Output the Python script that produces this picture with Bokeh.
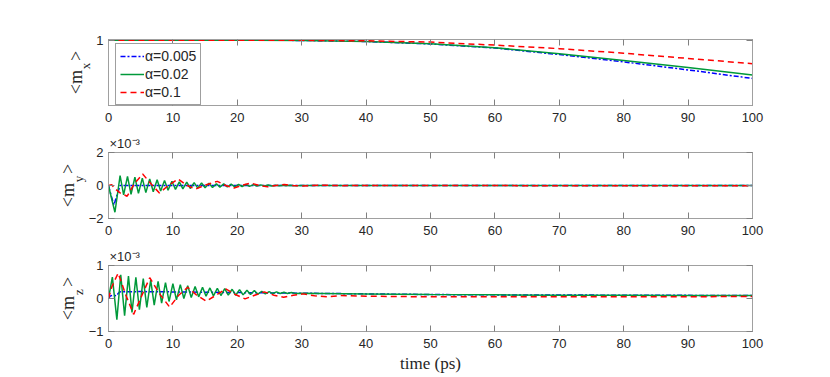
from bokeh.plotting import figure
from bokeh.layouts import column
from bokeh.models import (FixedTicker, Range1d, LinearAxis, Title,
                          CustomLabelingPolicy)
from bokeh.embed import file_html
from bokeh.resources import INLINE

# ---------------- data ----------------
labels = ["\u03b1=0.005", "\u03b1=0.02", "\u03b1=0.1"]
colors = ["#0000ff", "#00993a", "#ff0000"]
dashes = ["5 2 2 2", "solid", "6 4"]
x_ticks = [0, 10, 20, 30, 40, 50, 60, 70, 80, 90, 100]

# <m_x>
t_mx = [0, 10, 20, 30, 40, 50, 60, 70, 80, 90, 100]
mx_a005 = [1, 1, 1, 0.9996, 0.998, 0.9942, 0.988, 0.978, 0.9667, 0.9545, 0.9414]
mx_a02 = [1, 1, 1, 0.9996, 0.998, 0.9944, 0.9884, 0.9793, 0.969, 0.958, 0.9465]
mx_a1 = [1, 1, 1, 0.9998, 0.999, 0.997, 0.9924, 0.987, 0.98, 0.972, 0.964]

# <m_y>  (units of 1e-3)
t_my_a005 = [0, 0.4, 0.85, 1.3, 1.8, 100]
my_a005 = [0, -0.6, -1.18, -0.6, 0.0, 0.0]
t_my_a02 = [0, 0.3, 1.0, 1.8, 2.35, 2.95, 3.5, 4.1, 4.65, 5.25, 5.8, 6.4, 6.95,
            7.55, 8.1, 8.7, 9.25, 9.85, 10.4, 11.0, 11.55, 12.15, 12.7, 13.3,
            13.85, 14.45, 15.0, 15.6, 16.15, 16.75, 17.3, 17.9, 18.45, 19.05,
            19.6, 20.2, 20.75, 21.35, 21.9, 22.5, 23.05, 23.65, 24.2, 24.8,
            25.35, 25.95, 26.5, 27.1, 27.65, 28.25, 28.8, 30, 100]
my_a02 = [0, -0.5, -1.62, 0.6, -0.57, 0.55, -0.53, 0.5, -0.48, 0.45, -0.43,
          0.4, -0.38, 0.35, -0.33, 0.3, -0.28, 0.26, -0.24, 0.22, -0.2, 0.2,
          -0.18, 0.17, -0.16, 0.15, -0.14, 0.13, -0.12, 0.11, -0.1, 0.1,
          -0.09, 0.08, -0.08, 0.07, -0.06, 0.06, -0.05, 0.05, -0.04, 0.04,
          -0.03, 0.03, -0.03, 0.02, -0.02, 0.02, -0.01, 0.01, -0.01, 0, 0]
t_my_a1 = [0, 0.5, 1.0, 1.8, 2.9, 4.0, 5.3, 6.6, 7.9, 9.3, 10.8, 12.2, 13.5,
           15.2, 16.9, 18.2, 19.5, 20.8, 22.1, 23.4, 24.7, 26, 27.3, 28.6, 30,
           33, 36, 40, 100]
my_a1 = [0, 0.05, -0.2, -0.45, -0.65, 0.1, 0.7, 0.1, -0.45, 0.0, 0.4, 0.0,
         -0.22, 0.05, 0.25, 0.0, -0.15, 0.02, 0.15, 0.0, -0.08, 0.0, 0.06, 0.0,
         -0.03, 0.02, -0.01, 0.0, -0.02]

# <m_z>  (units of 1e-3)
t_mz_a005 = [0, 0.3, 0.8, 1.2, 1.7, 5, 10, 20, 30, 40, 50, 60, 80, 100]
mz_a005 = [0, 0.08, 0.1, 0.08, 0.2, 0.21, 0.2, 0.18, 0.16, 0.14, 0.12, 0.11,
           0.1, 0.09]
t_mz_a02 = [0, 0.6, 1.3, 1.9, 2.5, 3.1, 3.65, 4.25, 4.8, 5.4, 5.95, 6.55, 7.1,
            7.7, 8.25, 8.85, 9.4, 10.0, 10.55, 11.15, 11.7, 12.3, 12.85,
            13.45, 14.0, 14.6, 15.15, 15.75, 16.3, 16.9, 17.45, 18.05, 18.6,
            19.2, 19.75, 20.35, 20.9, 21.5, 22.05, 22.65, 23.2, 23.8, 24.35,
            24.95, 25.5, 26.1, 26.65, 27.25, 27.8, 28.4, 29, 30, 40, 50, 60,
            70, 80, 90, 100]
mz_a02 = [0, 0.65, -0.64, 0.72, -0.52, 0.68, -0.42, 0.64, -0.34, 0.6, -0.27,
          0.56, -0.2, 0.52, -0.14, 0.48, -0.09, 0.45, -0.04, 0.42, 0.0, 0.39,
          0.03, 0.36, 0.05, 0.34, 0.07, 0.32, 0.08, 0.31, 0.09, 0.3, 0.1,
          0.28, 0.1, 0.27, 0.11, 0.25, 0.12, 0.24, 0.13, 0.22, 0.14, 0.21,
          0.15, 0.2, 0.15, 0.19, 0.15, 0.18, 0.155, 0.16, 0.14, 0.12, 0.11,
          0.1, 0.1, 0.09, 0.09]
t_mz_a1 = [0, 0.5, 1.5, 2.7, 3.9, 5.2, 6.4, 7.9, 9.5, 10.9, 12.3, 13.7, 15.2,
           16.7, 18.2, 19.7, 21.2, 22.7, 24.2, 25.7, 27.2, 28.7, 30.2, 32, 34,
           36, 40, 50, 60, 80, 100]
mz_a1 = [0, 0.35, 0.77, 0.1, -0.48, 0.1, 0.63, 0.15, -0.26, 0.1, 0.34, 0.1,
         -0.08, 0.1, 0.29, 0.12, -0.01, 0.1, 0.2, 0.1, 0.04, 0.1, 0.14, 0.08,
         0.05, 0.09, 0.07, 0.05, 0.05, 0.05, 0.06]

# ---------------- styling helpers ----------------
BOX = "#a0a0a0"
TICK = "#808080"
TXT = "#262626"
FRAME_H = 66
NB = "\u00a0"

no_labels = CustomLabelingPolicy(code="""
try {
  const out = indices.clone()
  for (const i of indices) out.unset(i)
  return out
} catch (e) { return indices }
""")


def style_axis(ax, standoff, show_labels=True):
    ax.axis_line_color = BOX
    ax.major_tick_line_color = TICK
    ax.major_tick_in = 6
    ax.major_tick_out = 0
    ax.minor_tick_line_color = None
    ax.major_label_text_font = "Liberation Sans"
    ax.major_label_text_font_size = "13px"
    ax.major_label_text_color = TXT
    ax.major_label_standoff = standoff
    if not show_labels:
        ax.major_label_policy = no_labels
        ax.major_label_text_font_size = "0px"
        ax.major_label_standoff = 0


def make_fig(yrange, yticks, sub, top, bottom):
    p = figure(frame_width=644, frame_height=FRAME_H, min_border_left=108,
               min_border_right=60, min_border_top=top, min_border_bottom=bottom,
               x_range=Range1d(0, 100), y_range=Range1d(*yrange),
               output_backend="svg", toolbar_location=None)
    p.xgrid.visible = False
    p.ygrid.visible = False
    p.outline_line_color = BOX
    bottom_ax = p.below[0]
    left_ax = p.left[0]
    bottom_ax.ticker = FixedTicker(ticks=x_ticks)
    left_ax.ticker = FixedTicker(ticks=yticks)
    style_axis(bottom_ax, 7)
    style_axis(left_ax, 5)
    # subscript of the y label, drawn as the axis label (closest to the axis)
    left_ax.axis_label = NB * 4 + sub
    left_ax.axis_label_text_font = "Liberation Serif"
    left_ax.axis_label_text_font_size = "13px"
    left_ax.axis_label_text_font_style = "normal"
    left_ax.axis_label_text_color = TXT
    left_ax.axis_label_standoff = 0
    # main part of the y label "<m  >"
    p.add_layout(Title(text="<m" + NB * 2 + ">", align="center",
                       vertical_align="bottom", standoff=-21,
                       text_font="Liberation Serif", text_font_size="18px",
                       text_font_style="normal", text_color=TXT), "left")
    top_ax = LinearAxis(ticker=FixedTicker(ticks=x_ticks))
    right_ax = LinearAxis(ticker=FixedTicker(ticks=yticks))
    style_axis(top_ax, 0, False)
    style_axis(right_ax, 0, False)
    p.add_layout(top_ax, "above")
    p.add_layout(right_ax, "right")
    return p, bottom_ax


def exponent(p):
    p.title.text = "\u00d710\u207b\u00b3"
    p.title.align = "left"
    p.title.offset = 1
    p.title.standoff = 3
    p.title.text_font = "Liberation Sans"
    p.title.text_font_size = "13px"
    p.title.text_font_style = "normal"
    p.title.text_color = TXT


# ---------------- panel 1 ----------------
p1, _ = make_fig((0.9, 1.001), [1], "x", 39, 24)
for ys, c, d, lab in zip([mx_a005, mx_a02, mx_a1], colors, dashes, labels):
    p1.line(t_mx, ys, line_color=c, line_dash=d, line_width=1.5, legend_label=lab)
lg = p1.legend[0]
lg.location = (7, 0)
lg.border_line_color = "#404040"
lg.border_line_width = 1
lg.background_fill_color = "white"
lg.background_fill_alpha = 1
lg.padding = 4
lg.spacing = 2
lg.margin = 0
lg.label_height = 16
lg.glyph_height = 16
lg.glyph_width = 24
lg.label_standoff = 1
lg.label_text_font = "Liberation Sans"
lg.label_text_font_size = "14px"
lg.label_text_color = TXT

# ---------------- panel 2 ----------------
p2, _ = make_fig((-2, 2), [-2, 0, 2], "y", 23, 24)
for ts, ys, c, d in zip([t_my_a005, t_my_a02, t_my_a1], [my_a005, my_a02, my_a1],
                        colors, dashes):
    p2.line(ts, ys, line_color=c, line_dash=d, line_width=1.5)
exponent(p2)

# ---------------- panel 3 ----------------
p3, ax3 = make_fig((-1, 1), [-1, 0, 1], "z", 23, 40)
for ts, ys, c, d in zip([t_mz_a005, t_mz_a02, t_mz_a1], [mz_a005, mz_a02, mz_a1],
                        colors, dashes):
    p3.line(ts, ys, line_color=c, line_dash=d, line_width=1.5)
exponent(p3)
ax3.axis_label = "time (ps)"
ax3.axis_label_text_font = "Liberation Serif"
ax3.axis_label_text_font_size = "17px"
ax3.axis_label_text_font_style = "normal"
ax3.axis_label_text_color = TXT
ax3.axis_label_standoff = 3

layout = column(p1, p2, p3, spacing=0)
open("out.html", "w").write(file_html(layout, INLINE))
